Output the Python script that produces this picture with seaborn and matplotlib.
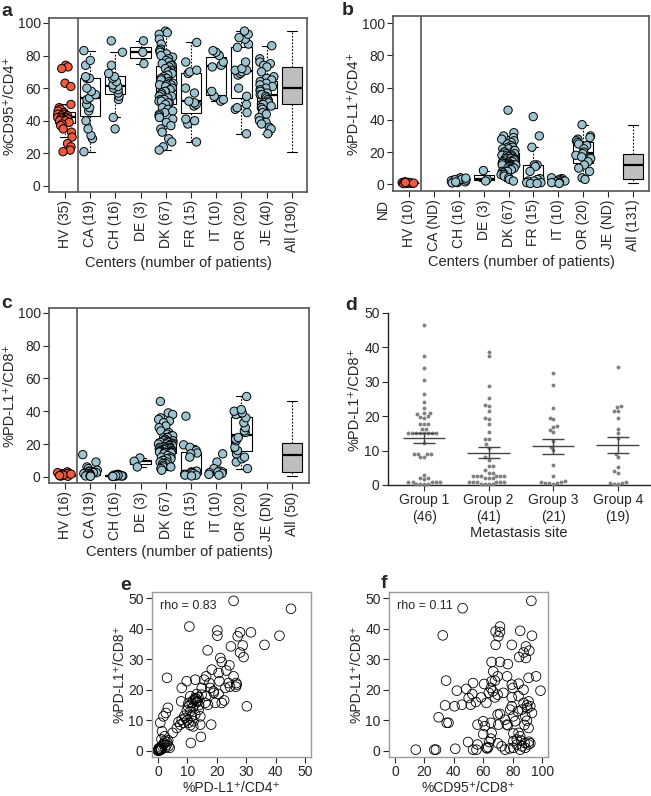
import numpy as np
import pandas as pd
import matplotlib.pyplot as plt
import seaborn as sns

sns.set_style('white')
plt.rcParams['font.family'] = ['Liberation Sans', 'DejaVu Sans']
plt.rcParams['font.size'] = 10

centers = ['HV', 'CA', 'CH', 'DE', 'DK', 'FR', 'IT', 'OR', 'JE', 'All']
red = '#EE5B3E'
blue = '#9DC3D0'
grey = '#BEBEBE'

# ---- panel a: %CD95+/CD4+ by center
a_vals = {
    'HV': [74, 73, 72, 63, 61, 50, 48, 47, 46, 45, 44, 44, 43, 43, 43, 42, 42, 42, 42, 41,
           41, 41, 40, 40, 40, 39, 38, 37, 35, 33, 30, 26, 24, 22, 21],
    'CA': [21, 29, 31, 35, 40, 46, 48, 50, 53, 54, 56, 58, 60, 66, 66, 67, 74, 77, 83],
    'CH': [35, 42, 53, 55, 57, 59, 60, 61, 62, 64, 66, 67, 69, 74, 82, 89],
    'DE': [89, 82, 75],
    'DK': [95, 94, 93, 90, 87, 84, 83, 82, 81, 80, 79, 78, 77, 76, 75, 74, 74,
           73, 72, 71, 70, 70, 69, 68, 67, 66, 66, 65, 64, 63, 63, 62, 62, 62, 61, 60, 59,
           58, 58, 57, 56, 55, 55, 54, 53, 53, 52, 52, 51, 51,
           50, 48, 47, 46, 45, 44, 43, 42, 41, 39, 37, 35, 33, 29, 27, 24, 22],
    'FR': [27, 38, 40, 41, 49, 50, 51, 52, 57, 60, 69, 70, 71, 76, 88],
    'IT': [52, 53, 55, 58, 73, 74, 76, 80, 82, 83],
    'OR': [32, 45, 47, 48, 50, 55, 60, 68, 69, 70, 71, 71, 72, 76, 85, 87, 90, 91, 93, 95],
    'JE': [86, 78, 76, 75, 74, 73, 70, 67, 66, 65, 64, 63, 62, 61, 60, 59, 58, 57, 56, 56,
           55, 54, 53, 52, 51, 51, 50, 50, 49, 48, 47, 45, 44, 42, 40, 39, 38, 36, 35, 32],
}
a_labels = ['HV (35)', 'CA (19)', 'CH (16)', 'DE (3)', 'DK (67)', 'FR (15)', 'IT (10)',
            'OR (20)', 'JE (40)', 'All (190)']

# ---- panel b: %PD-L1+/CD4+ by center
b_vals = {
    'HV': [0.5, 0.8, 1.0, 1.2, 0.6, 0.9, 0.4, 1.5, 0.7, 1.1],
    'CH': [1, 1.5, 2, 2.5, 3, 3.5, 4, 1.2, 1.8, 2.2, 2.8, 3.2, 0.8, 1.4, 2.6, 3.8],
    'DE': [8.5, 3, 2],
    'DK': [46, 32, 30, 29, 28, 27, 26, 25, 24, 23, 23, 22, 22, 21, 21, 20, 20,
           19, 19, 18, 18, 18, 17, 17, 17, 16, 16, 16, 16, 15, 15, 15, 15, 15, 14, 14, 14, 14,
           13, 13, 13, 13, 12, 12, 12, 12, 12, 12, 12, 11.5,
           11, 11, 10, 10, 10, 9, 9, 8, 8, 7, 7, 6, 6, 5, 4, 3, 2],
    'FR': [42, 30, 23, 12, 12, 11, 8, 3.5, 3, 2, 2, 1, 1, 0.5, 0.5],
    'IT': [4, 3.5, 3, 2.5, 2, 2, 1.5, 1, 1, 0.5],
    'OR': [37, 30, 29, 28, 27, 26, 25, 24, 22, 20, 19, 18, 17, 16, 14, 12, 10, 8, 4, 3],
}
b_labels = ['HV (10)', 'CA (ND)', 'CH (16)', 'DE (3)', 'DK (67)', 'FR (15)', 'IT (10)',
            'OR (20)', 'JE (ND)', 'All (131)']

# ---- panel c: %PD-L1+/CD8+ by center
c_vals = {
    'HV': [0.5, 1, 1.5, 2, 2.5, 3, 0.8, 1.2, 1.8, 0.3, 0.6, 1.4, 2.2, 1, 0.7, 1.6],
    'CA': [13.5, 9, 6, 5, 4, 3.5, 3, 3, 2.5, 2.5, 2, 2, 2, 1.5, 1, 1, 0.5, 0.5, 0.3],
    'CH': [1.5, 1.2, 1, 1, 0.8, 0.8, 0.6, 0.6, 0.5, 0.5, 0.4, 0.3, 1.3, 0.9, 0.7, 0.2],
    'DE': [11.5, 9.5, 6],
    'DK': [46, 39, 38, 36, 35, 34, 33, 31, 30, 28, 27, 26, 25, 25, 24, 24, 23,
           22.5, 22, 22, 21.5, 21, 21, 20.5, 20, 20, 20, 19.5, 19, 19, 18.5, 18, 18, 18,
           17.5, 17, 17, 17, 16.5, 16, 16, 16, 15.5, 15.5, 15, 15, 15, 14.8, 14.6, 14.5,
           14, 13, 12, 12, 11, 11, 10, 10, 9, 9, 8, 8, 7, 6, 6, 5, 4],
    'FR': [37, 19.5, 18, 16, 14.5, 14, 12, 3.5, 3, 2.5, 2, 1.5, 1, 1, 0.5],
    'IT': [14, 9, 5, 3.5, 3, 3, 2.5, 2, 1.5, 1],
    'OR': [5, 9, 11, 12, 14, 16, 18, 22, 23, 24, 27, 28, 30, 33, 36, 38, 39, 40, 41, 49],
}
c_labels = ['HV (16)', 'CA (19)', 'CH (16)', 'DE (3)', 'DK (67)', 'FR (15)', 'IT (10)',
            'OR (20)', 'JE (DN)', 'All (50)']

# ---- panel d: %PD-L1+/CD8+ by metastasis site
d_groups = ['Group 1\n(46)', 'Group 2\n(41)', 'Group 3\n(21)', 'Group 4\n(19)']
d_g1 = [46.4, 37.6, 34.1, 30.5, 26.4, 24.2, 22.3, 20.8, 20.5, 19.8, 19.4, 20.0, 20.8,
        17.6, 17.6, 17.6, 16.2, 16.2, 15.2, 15.2, 15.2, 15.2, 15.2, 15.2, 15.2, 15.2,
        12.3, 8.9, 8.9, 8.9, 8.9, 8.0, 8.0, 2.8, 2.1, 2.1, 1.6,
        1.0, 1.0, 1.0, 1.0, 1.0, 0.4, 0.4, 0.4, 0.4]
d_g2 = [38.6, 37.4, 28.8, 25.2, 23.1, 23.2, 21.5, 19.2, 19.4, 17.6, 15.3, 13.5, 13.5,
        11.8, 10.9, 8.0, 7.4, 5.4, 5.4, 4.3, 3.6, 3.6,
        2.6, 2.6, 2.6, 2.6, 2.6, 2.6, 2.0, 2.0, 2.0,
        1.0, 1.0, 1.0, 1.0, 1.0, 1.0, 0.4, 0.4, 0.4, 0.4]
d_g3 = [32.7, 29.0, 22.5, 19.6, 19.1, 17.1, 16.9, 16.1, 15.5, 12.7, 11.1, 10.1, 5.9, 2.5,
        1.2, 0.8, 0.5, 0.5, 0.3, 0.6, 1.0]
d_g4 = [34.3, 23.0, 22.7, 21.6, 21.6, 19.4, 16.4, 15.2, 13.8, 9.1, 8.1, 5.1, 4.0, 3.6,
        0.7, 0.5, 0.3, 0.8, 0.4]

# ---- panel e: %PD-L1+/CD4+ (x) vs %PD-L1+/CD8+ (y)
e_x = [25.7, 45.2, 10.7, 20.2, 20.2, 27.9, 27.1, 31.6, 41.3, 36.2, 24.8, 28.8, 27.9, 29.1,
       16.9, 21.2, 21.7, 24.3, 18.3, 23.2, 12.7, 15.7, 3.1, 16.4, 20.6, 20.9, 17.5, 25.7,
       26.6, 26.8, 24.0, 22.9, 8.1, 9.8, 14.9, 17.8, 18.9, 20.6, 14.9, 13.2, 11.0, 12.7,
       13.8, 13.2, 11.5, 10.4, 16.1, 19.5, 21.7, 7.9, 10.2, 12.1, 13.8, 17.0, 30.2, 9.8,
       11.0, 12.7, 14.4, 9.3, 8.1, 8.7, 10.4, 12.1, 11.5, 7.6, 6.4, 5.0, 18.1, 14.4, 11.0,
       14.6, 11.2, 1.9, 3.4, 2.7, 0.8, 1.4, 2.3, 3.1, 3.6, 1.9, 0.8, 0.2, 1.1, 2.5, 0.0,
       0.3, 0.5, 0.6, 0.4, 1.0, 0.7, 1.5, 2.0, 3.0, 2.5, 3.5, 1.2, 4.0, 0.2,
       12.5, 13.0, 12.0, 13.5, 11.8, 9.0, 10.0, 14.0, 16.5, 7.0, 12.0, 19.0, 22.5, 24.5, 26.5]
e_y = [49.1, 46.5, 40.7, 39.4, 37.7, 38.8, 37.5, 38.8, 37.7, 34.7, 34.2, 34.5, 32.2, 30.7,
       32.9, 30.4, 29.1, 28.0, 26.6, 26.3, 23.3, 23.3, 23.9, 24.4, 25.5, 22.8, 22.2, 24.4,
       22.2, 21.7, 22.2, 20.6, 20.6, 22.8, 20.6, 20.6, 19.5, 18.6, 18.4, 18.6, 17.9, 17.3,
       17.5, 16.2, 15.7, 15.7, 15.7, 15.7, 15.7, 16.2, 14.6, 14.6, 13.5, 15.1, 14.6, 13.2,
       13.0, 11.9, 11.3, 10.8, 10.2, 9.2, 9.2, 9.7, 11.3, 8.6, 7.5, 5.9, 8.6, 8.6, 8.4,
       4.6, 2.6, 11.3, 14.1, 12.4, 9.2, 6.4, 4.8, 2.9, 1.5, 2.1, 1.2, 0.7, 0.4, 1.0, 0.1,
       0.3, 0.5, 0.2, 0.8, 0.6, 0.3, 1.5, 2.5, 2.0, 3.2, 3.5, 3.8, 1.0, 0.0,
       16.8, 17.0, 16.5, 16.0, 14.0, 11.5, 10.0, 15.0, 18.0, 9.5, 8.0, 19.0, 16.5, 21.0, 21.0]

# ---- panel f: %CD95+/CD8+ (x) vs %PD-L1+/CD8+ (y)
f_x = [92.7, 46.0, 32.5, 71.4, 68.4, 71.4, 70.3, 85.1, 93.1, 68.4, 79.4, 89.0, 87.4, 91.3,
       84.4, 89.0, 65.7, 71.4, 76.7, 66.8, 69.8, 76.2, 90.8, 95.9, 34.8, 53.1, 60.6, 65.7,
       68.0, 65.2, 79.4, 80.1, 87.4, 48.5, 42.1, 52.6, 58.6, 50.1, 63.8, 73.7, 68.0, 69.8,
       79.4, 84.0, 90.8, 87.4, 89.7, 92.0, 98.9, 34.1, 40.5, 45.5, 51.5, 62.2, 79.4, 78.3,
       86.3, 93.1, 29.7, 35.2, 36.4, 56.1, 60.0, 61.1, 65.2, 69.8, 71.4, 74.8, 76.0, 76.7,
       70.3, 80.5, 81.7, 88.6, 89.7, 90.8, 84.0, 80.5, 85.1, 85.8, 65.7, 65.2, 64.1, 49.7,
       56.1, 63.4, 62.2, 62.7, 53.1, 55.4, 14.2, 26.8, 27.9, 41.0, 72.5, 74.8, 80.5, 82.8,
       86.3, 85.1, 88.6, 90.8, 92.0, 88.1, 80.5, 82.8,
       83.5, 66.5, 88.0, 78.0, 60.0, 55.0, 90.0, 84.0, 91.0, 70.0]
f_y = [49.1, 46.7, 37.8, 40.7, 39.1, 38.9, 37.5, 39.3, 37.7, 34.7, 34.7, 34.2, 32.2, 32.8,
       30.7, 30.4, 29.1, 29.1, 28.4, 26.0, 24.4, 24.4, 23.9, 24.4, 23.0, 22.2, 21.9, 22.8,
       23.0, 20.6, 21.7, 20.6, 20.0, 20.3, 19.7, 18.6, 17.5, 17.3, 19.0, 19.0, 17.5, 18.4,
       17.5, 17.9, 16.2, 15.7, 14.9, 14.6, 19.7, 14.9, 14.6, 15.1, 15.1, 15.7, 14.6, 13.5,
       13.5, 12.4, 11.0, 9.2, 9.2, 8.6, 9.7, 8.1, 9.2, 11.9, 12.1, 10.2, 8.6, 8.4,
       8.6, 11.3, 9.7, 11.3, 9.9, 7.5, 5.9, 5.7, 4.8, 3.4, 5.9, 4.0, 2.9, 2.9,
       2.1, 1.2, 1.0, 0.8, 0.4, 0.4, 0.4, 0.4, 0.4, 0.7, 1.5, 0.4, 1.0, 2.1,
       1.5, 0.4, 1.0, 2.1, 2.5, 2.6, 3.2, 3.7,
       13.0, 19.5, 8.5, 0.8, 5.5, 16.0, 14.0, 22.0, 3.0, 2.5]

W, H = 651, 796
fig = plt.figure(figsize=(W / 100, H / 100), dpi=100)


def box_ax(l, t, r, b):
    return fig.add_axes([l / W, 1 - b / H, (r - l) / W, (b - t) / H])


def center_panel(ax, vals, labels, ylabel, xlim, ylim, sep):
    rows = []
    for c, v in vals.items():
        for x in v:
            rows.append((c, x, 'HV' if c == 'HV' else 'pt'))
    df = pd.DataFrame(rows, columns=['center', 'value', 'grp'])
    pooled = df[df.grp == 'pt'].assign(center='All')
    boxdf = pd.concat([df, pooled], ignore_index=True)
    pal = {c: 'white' for c in centers}
    pal['All'] = grey
    sns.boxplot(data=boxdf, x='center', y='value', order=centers, hue='center',
                palette=pal, legend=False, width=0.8, saturation=1, showfliers=False,
                linecolor='black', linewidth=0.8,
                whiskerprops={'linestyle': (0, (1.5, 1.5))},
                medianprops={'linewidth': 1.6}, ax=ax)
    sns.stripplot(data=df, x='center', y='value', order=centers, hue='grp',
                  palette={'HV': red, 'pt': blue}, jitter=0.3, size=6,
                  edgecolor='black', linewidth=0.7, legend=False, ax=ax, zorder=3)
    ax.axvline(sep, color='#555555', lw=1.2)
    ax.set_xlim(*xlim)
    ax.set_ylim(*ylim)
    ax.set_yticks(range(0, 101, 20))
    ax.set_xticks(range(len(centers)))
    ax.set_xticklabels(labels, rotation=90)
    ax.set_xlabel('Centers (number of patients)', fontsize=10.5, labelpad=3)
    ax.set_ylabel(ylabel, fontsize=10.5, labelpad=1)
    for s in ax.spines.values():
        s.set_color('#555555')
        s.set_linewidth(1.2)
    ax.tick_params(bottom=True, left=True, direction='out', length=4, width=0.8,
                   labelsize=10, pad=2)


np.random.seed(3)

ax_a = box_ax(49, 18, 307, 192)
center_panel(ax_a, a_vals, a_labels, '%CD95\u207a/CD4\u207a', (-0.63, 9.6), (-3.7, 103), 0.52)

ax_b = box_ax(393, 16, 649, 191)
center_panel(ax_b, b_vals, b_labels, '%PD-L1\u207a/CD4\u207a', (-0.64, 9.64), (-4.2, 104.5), 0.48)
ax_b.text(-1.04, -0.045, 'ND', rotation=90, ha='center', va='top', fontsize=10,
          transform=ax_b.get_xaxis_transform(), clip_on=False)

ax_c = box_ax(49, 308, 309, 483)
center_panel(ax_c, c_vals, c_labels, '%PD-L1\u207a/CD8\u207a', (-0.63, 9.68), (-3.8, 103), 0.48)

# ---- panel d
ax_d = box_ax(388, 313, 650, 485)
ddf = pd.DataFrame({'site': [d_groups[0]] * len(d_g1) + [d_groups[1]] * len(d_g2)
                    + [d_groups[2]] * len(d_g3) + [d_groups[3]] * len(d_g4),
                    'value': d_g1 + d_g2 + d_g3 + d_g4})
sns.swarmplot(data=ddf, x='site', y='value', order=d_groups, color='#808080', size=2.8,
              ax=ax_d, clip_on=False)
stats = ddf.groupby('site', sort=False)['value'].agg(['mean', 'sem'])
for i, g in enumerate(d_groups):
    m, se = stats.loc[g, 'mean'], stats.loc[g, 'sem']
    ax_d.hlines(m, i - 0.33, i + 0.33, color='#444444', lw=1.0, zorder=4)
    ax_d.errorbar(i, m, yerr=se, color='#444444', lw=1.0, capsize=8, capthick=1.0, zorder=4)
ax_d.set_xlim(-0.56, 3.5)
ax_d.set_ylim(0, 50)
ax_d.set_yticks(range(0, 51, 10))
sns.despine(ax=ax_d)
for s in ['left', 'bottom']:
    ax_d.spines[s].set_color('#222222')
    ax_d.spines[s].set_linewidth(1.0)
ax_d.tick_params(bottom=True, left=True, direction='out', length=4, width=0.8,
                 labelsize=10, pad=2)
ax_d.set_xlabel('Metastasis site', fontsize=10.5, labelpad=2)
ax_d.set_ylabel('%PD-L1\u207a/CD8\u207a', fontsize=10.5, labelpad=2)


# ---- panels e, f
def scatter_panel(ax, x, y, xlabel, rho, xlim, xticks):
    sns.scatterplot(x=x, y=y, marker='o', s=48, facecolor='none', edgecolor='black',
                    linewidth=0.6, ax=ax)
    ax.set_xlim(*xlim)
    ax.set_ylim(-2, 52)
    ax.set_xticks(xticks)
    ax.set_yticks(range(0, 51, 10))
    for s in ax.spines.values():
        s.set_color('#999999')
        s.set_linewidth(1.0)
    ax.tick_params(bottom=True, left=True, direction='out', length=4, width=0.8,
                   labelsize=10, pad=2)
    ax.set_xlabel(xlabel, fontsize=10, labelpad=1)
    ax.set_ylabel('%PD-L1\u207a/CD8\u207a', fontsize=10, labelpad=1)
    ax.text(0.05, 0.95, rho, transform=ax.transAxes, ha='left', va='top', fontsize=9)


ax_e = box_ax(152, 592, 311, 757)
scatter_panel(ax_e, e_x, e_y, '%PD-L1\u207a/CD4\u207a', 'rho = 0.83', (-2, 52), range(0, 51, 10))
ax_f = box_ax(389, 592, 548, 757)
scatter_panel(ax_f, f_x, f_y, '%CD95\u207a/CD8\u207a', 'rho = 0.11', (-4, 104), range(0, 101, 20))

for lab, x, y in [('a', 1, 16), ('b', 342, 15), ('c', 1, 308), ('d', 345, 310),
                  ('e', 120, 590), ('f', 381, 588)]:
    fig.text(x / W, 1 - y / H, lab, fontsize=14, fontweight='bold', va='baseline')

fig.savefig('out.png', dpi=100)
